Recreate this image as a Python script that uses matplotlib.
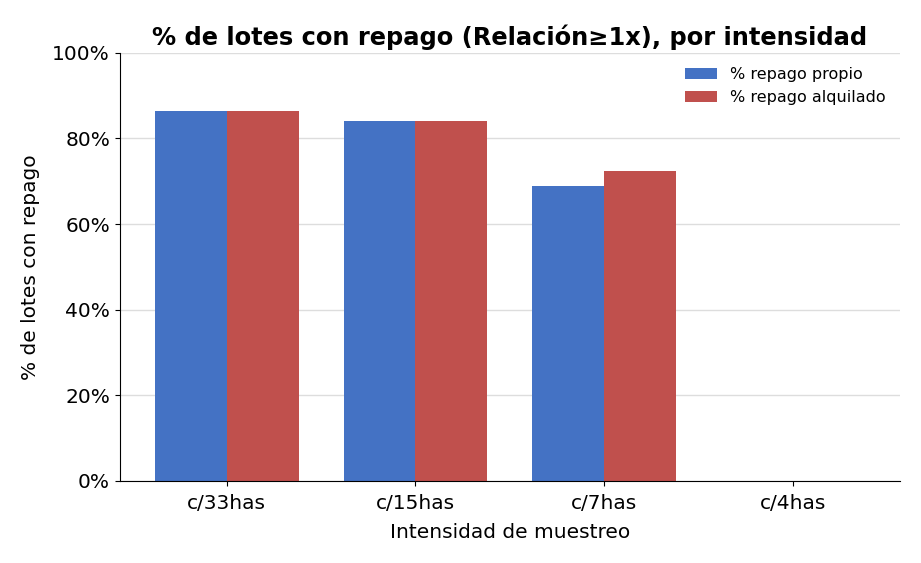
import numpy as np
import matplotlib
matplotlib.use("Agg")
import matplotlib.pyplot as plt
from matplotlib.ticker import PercentFormatter

plt.rcParams["font.family"] = ["DejaVu Sans"]

# === DATA ===
categorias = ["c/33has", "c/15has", "c/7has", "c/4has"]
repago_propio = [86.5, 84.1, 69.0, 0.0]
repago_alquilado = [86.5, 84.1, 72.4, 0.0]

# === PLOT ===
fig, ax = plt.subplots(figsize=(9.21, 5.63), dpi=100)
x = np.arange(len(categorias))
w = 0.38

ax.bar(x - w / 2, repago_propio, w, color="#4472C4", label="% repago propio")
ax.bar(x + w / 2, repago_alquilado, w, color="#C0504D", label="% repago alquilado")

ax.set_xticks(x)
ax.set_xticklabels(categorias, fontsize=14.5)
ax.set_ylim(0, 100)
ax.yaxis.set_major_formatter(PercentFormatter(100, decimals=0))
ax.tick_params(axis="y", labelsize=14.5)
ax.tick_params(axis="x", pad=6)
ax.set_xlabel("Intensidad de muestreo", fontsize=14.5, labelpad=7)
ax.set_ylabel("% de lotes con repago", fontsize=14.5, labelpad=9)
ax.set_title("% de lotes con repago (Relación≥1x), por intensidad",
             fontsize=17.4, fontweight="bold")

ax.grid(axis="y", color="#dddddd", linewidth=1)
ax.set_axisbelow(True)
ax.spines["top"].set_visible(False)
ax.spines["right"].set_visible(False)
ax.legend(frameon=False, fontsize=11.5, loc="upper right")

plt.subplots_adjust(left=0.13, right=0.977, top=0.906, bottom=0.146)
plt.savefig("out.png")
